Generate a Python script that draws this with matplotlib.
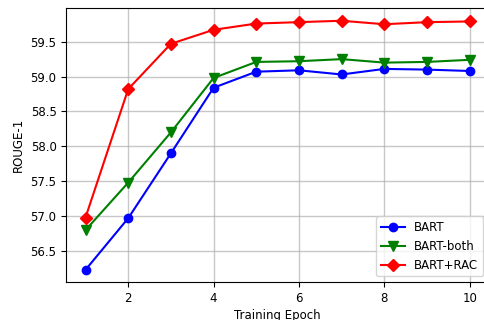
import matplotlib
matplotlib.use('Agg')
import matplotlib.pyplot as plt

# Training epochs
epochs = [1, 2, 3, 4, 5, 6, 7, 8, 9, 10]

# ROUGE-1 scores per model
bart = [56.23, 56.97, 57.90, 58.84, 59.07, 59.09, 59.03, 59.11, 59.10, 59.08]
bart_both = [56.80, 57.48, 58.20, 58.98, 59.21, 59.22, 59.25, 59.20, 59.21, 59.24]
bart_rac = [56.98, 58.82, 59.47, 59.67, 59.76, 59.78, 59.80, 59.75, 59.78, 59.79]

fig = plt.figure(figsize=(4.84, 3.2), dpi=100)
# axes runs slightly past the right edge, as in the reference
ax = fig.add_axes([66.3 / 484, (320 - 282.3) / 320, 422.6 / 484, 274 / 320])

ax.plot(epochs, bart, color='blue', marker='o', markersize=6, linewidth=1.5, label='BART')
ax.plot(epochs, bart_both, color='green', marker='v', markersize=7, linewidth=1.5, label='BART-both')
ax.plot(epochs, bart_rac, color='red', marker='D', markersize=6, linewidth=1.5, label='BART+RAC')

ax.set_xticks([2, 4, 6, 8, 10])
ax.set_yticks([56.5, 57.0, 57.5, 58.0, 58.5, 59.0, 59.5])
ax.tick_params(labelsize=8.5)
ax.set_xlabel('Training Epoch', fontsize=8.5, labelpad=3)
ax.set_ylabel('ROUGE-1', fontsize=8.5)
ax.grid(True, linewidth=1.0, alpha=0.7)
ax.legend(loc='lower right', fontsize=8.5)

fig.savefig('out.png', dpi=100)
